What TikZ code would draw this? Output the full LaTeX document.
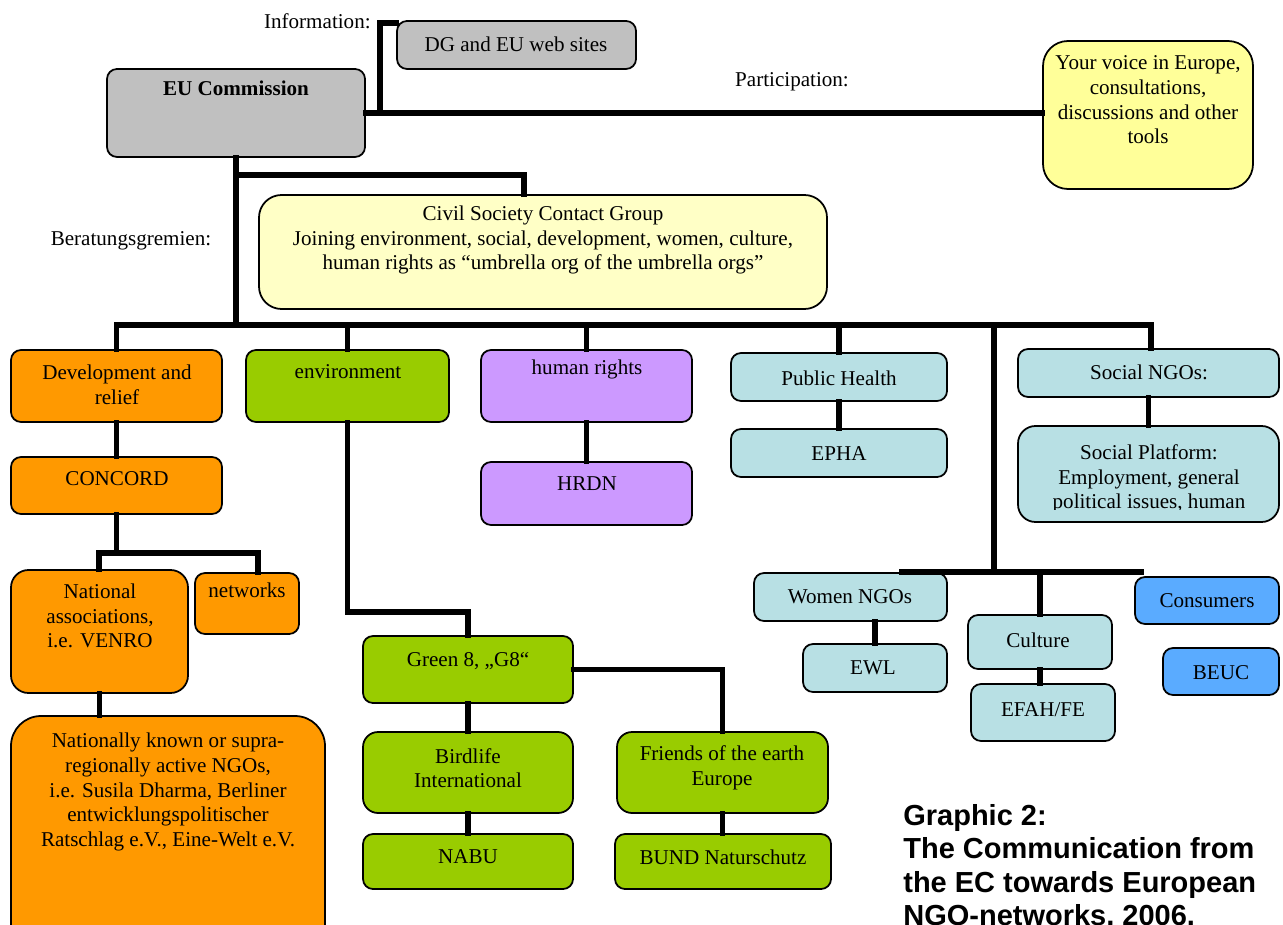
\documentclass[tikz,border=0pt]{standalone}
\usepackage{fontspec}
\setmainfont{Liberation Serif}
\newfontfamily\capfont{Liberation Sans}
\usetikzlibrary{fit,calc}
\definecolor{cgray}{HTML}{C0C0C0}
\definecolor{cyel}{HTML}{FFFF99}
\definecolor{ccivil}{HTML}{FFFFC6}
\definecolor{corange}{HTML}{FF9900}
\definecolor{cgreen}{HTML}{99CC00}
\definecolor{cpurple}{HTML}{CC99FF}
\definecolor{clblue}{HTML}{B8E0E4}
\definecolor{cblue}{HTML}{5AABFF}
\begin{document}
\begin{tikzpicture}[x=0.02cm,y=-0.02cm,
  box/.style={draw=black, line width=1pt, rounded corners=0.2cm, inner sep=0pt},
  conn/.style={line width=2.9pt, line cap=rect},
  txt/.style={inner sep=0pt, align=center, font=\fontsize{12}{14}\selectfont},
  capt/.style={inner sep=0pt, align=left, font=\capfont\bfseries\fontsize{16.5}{19}\selectfont}]
\useasboundingbox (0,0) rectangle (1283,925);
\clip (0,0) rectangle (1283,925);

% ---------- boxes ----------
\node[box, fill=cgray, fit={(107,69)(365,157)}] (eu) {};
\node[box, fill=cgray, fit={(397,21)(636,69)}] (dg) {};
\node[box, fill=cyel, rounded corners=0.5cm, fit={(1043,41)(1253,189)}] (voice) {};
\node[box, fill=ccivil, rounded corners=0.45cm, fit={(259,195)(827,309)}] (civil) {};

\node[box, fill=corange, fit={(11,350)(222,422)}] (dev) {};
\node[box, fill=cgreen, fit={(246,350)(449,422)}] (env) {};
\node[box, fill=cpurple, fit={(481,350)(692,422)}] (hr) {};
\node[box, fill=clblue, fit={(731,353)(947,401)}] (ph) {};
\node[box, fill=clblue, fit={(1018,349)(1279,397)}] (soc) {};

\node[box, fill=corange, fit={(11,457)(222,514)}] (concord) {};
\node[box, fill=cpurple, fit={(481,462)(692,525)}] (hrdn) {};
\node[box, fill=clblue, fit={(731,429)(947,477)}] (epha) {};
\node[box, fill=clblue, rounded corners=0.35cm, fit={(1018,426)(1279,522)}] (sp) {};

\node[box, fill=corange, rounded corners=0.35cm, fit={(11,570)(188,693)}] (national) {};
\node[box, fill=corange, fit={(195,573)(299,634)}] (networks) {};
\node[box, fill=corange, rounded corners=0.6cm, fit={(11,716)(325,960)}] (nationally) {};

\node[box, fill=cgreen, fit={(363,636)(573,703)}] (green) {};
\node[box, fill=cgreen, rounded corners=0.3cm, fit={(363,732)(573,813)}] (birdlife) {};
\node[box, fill=cgreen, rounded corners=0.3cm, fit={(617,732)(828,813)}] (foe) {};
\node[box, fill=cgreen, fit={(363,834)(573,889)}] (nabu) {};
\node[box, fill=cgreen, fit={(615,834)(831,889)}] (bund) {};

\node[box, fill=clblue, fit={(754,573)(947,621)}] (women) {};
\node[box, fill=clblue, fit={(803,644)(947,692)}] (ewl) {};
\node[box, fill=clblue, fit={(968,615)(1112,669)}] (culture) {};
\node[box, fill=clblue, fit={(971,684)(1115,741)}] (efah) {};
\node[box, fill=cblue, fit={(1135,577)(1279,624)}] (cons) {};
\node[box, fill=cblue, fit={(1163,648)(1279,695)}] (beuc) {};

% ---------- connectors ----------
\coordinate (infoJ) at (380,113);
\coordinate (infoT) at (380,23);
\coordinate (civJ) at (524,175);
\coordinate (busL) at (117,325);
\coordinate (busR) at (1151,325);
\coordinate (womJ) at (994,572);
\coordinate (womL) at (902,572);
\coordinate (womR) at (1141,572);
\coordinate (natJ) at (117,553);
\coordinate (natL) at (99,553);
\coordinate (natR) at (258,553);
\coordinate (envJ) at (468,612);

\draw[conn] (eu.east) -- (eu.east -| voice.west);
\draw[conn] (infoJ) -- (infoT) -- (infoT -| dg.west);
\draw[conn] (eu.south) -- (eu.south |- busL);
\draw[conn] (eu.south |- civJ) -- (civJ) -- (civJ |- civil.north);
\draw[conn] (busL) -- (busR);
\draw[conn] (dev.north |- busL) -- (dev.north);
\draw[conn] (env.north |- busL) -- (env.north);
\draw[conn] (hr.north |- busL) -- (hr.north);
\draw[conn] (ph.north |- busL) -- (ph.north);
\draw[conn] (busR) -- (busR |- soc.north);
\draw[conn] (womJ |- busL) -- (womJ);
\draw[conn] (womL) -- (womR);
\draw[conn] (culture.north |- womL) -- (culture.north);
\draw[conn] (ewl.north |- women.south) -- (ewl.north);
\draw[conn] (culture.south) -- (culture.south |- efah.north);

\draw[conn] (dev.south) -- (dev.south |- concord.north);
\draw[conn] (concord.south) -- (concord.south |- natJ);
\draw[conn] (natL |- national.north) -- (natL) -- (natR) -- (natR |- networks.north);
\draw[conn] (national.south) -- (national.south |- nationally.north);

\draw[conn] (hr.south) -- (hrdn.north);
\draw[conn] (ph.south) -- (epha.north);
\draw[conn] (soc.south) -- (sp.north);

\draw[conn] (env.south) -- (env.south |- envJ) -- (envJ) -- (green.north);
\draw[conn] (green.east) -| (foe.north);
\draw[conn] (green.south) -- (birdlife.north);
\draw[conn] (birdlife.south) -- (nabu.north);
\draw[conn] (foe.south) -- (foe.south |- bund.north);

% ---------- texts ----------
\node[txt, anchor=east] (infoL) at (371,21) {Information:};
\node[txt] (partL) at (792,82) {Participation:};
\node[txt] (berL) at (131,241) {Beratungsgremien:};

\node[txt] (euT) at (236,88) {\bfseries EU Commission};
\node[txt] (dgT) at (516,44) {DG and EU web sites};
\node[txt] (voiceT) at (1148,100) {Your voice in Europe,\\consultations,\\discussions and other\\tools};
\node[txt] (civilT) at (543,240) {Civil Society Contact Group\\Joining environment, social, development, women, culture,\\human rights as “umbrella org of the umbrella orgs”};

\node[txt] (devT) at (117,385) {Development and\\relief};
\node[txt] (envT) at (348,372) {environment};
\node[txt] (hrT) at (587,369) {human rights};
\node[txt] (phT) at (839,378) {Public Health};
\node[txt] (socT) at (1149,372) {Social NGOs:};
\node[txt] (concordT) at (117,479) {CONCORD};
\node[txt] (hrdnT) at (587,484) {HRDN};
\node[txt] (ephaT) at (839,454) {EPHA};
\begin{scope}
\clip (1018,426) rectangle (1279,509);
\node[txt] (spT) at (1149,479) {Social Platform:\\Employment, general\\political issues, human};
\end{scope}

\node[txt] (nationalT) at (100,616) {National\\associations,\\i.e. VENRO};
\node[txt] (networksT) at (247,590) {networks};
\node[txt] (nationallyT) at (168,792) {Nationally known or supra-\\regionally active NGOs,\\i.e. Susila Dharma, Berliner\\entwicklungspolitischer\\Ratschlag e.V., Eine-Welt e.V.};

\node[txt] (greenT) at (468,661) {Green 8, „G8“};
\node[txt] (birdlifeT) at (468,768) {Birdlife\\International};
\node[txt] (foeT) at (722,768) {Friends of the earth\\Europe};
\node[txt] (nabuT) at (468,857) {NABU};
\node[txt] (bundT) at (723,857) {BUND Naturschutz};

\node[txt] (womenT) at (850,597) {Women NGOs};
\node[txt] (ewlT) at (873,668) {EWL};
\node[txt] (cultureT) at (1038,640) {Culture};
\node[txt] (efahT) at (1043,710) {EFAH/FE};
\node[txt] (consT) at (1207,601) {Consumers};
\node[txt] (beucT) at (1221,673) {BEUC};

\node[capt, anchor=north west] (cap) at (903,804) {Graphic 2:\\The Communication from\\the EC towards European\\NGO-networks, 2006.};
\end{tikzpicture}
\end{document}
